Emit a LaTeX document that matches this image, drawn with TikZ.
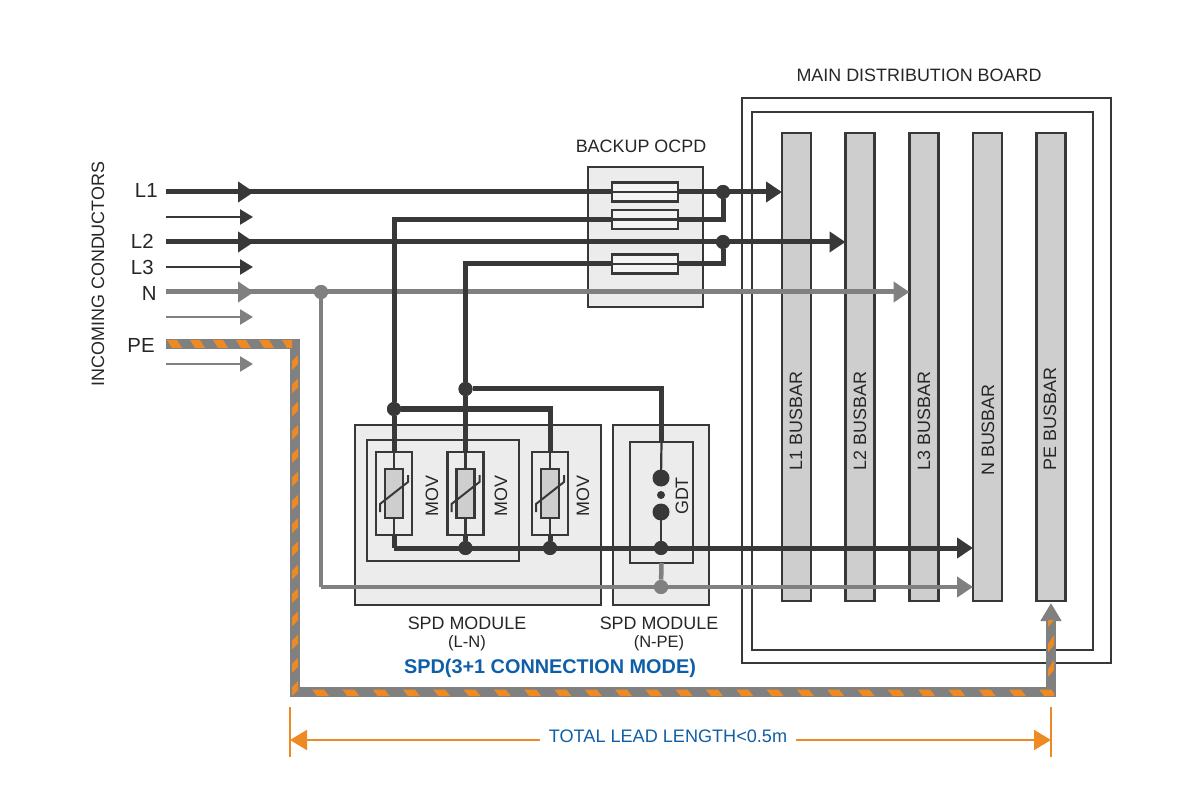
\documentclass[tikz,border=0pt]{standalone}
\usepackage{fontspec}
\setmainfont{Liberation Sans}
\usetikzlibrary{arrows.meta}
\def\px{.02cm}
\definecolor{wiredark}{HTML}{383838}
\definecolor{wiregray}{HTML}{808080}
\definecolor{boxgray}{HTML}{ECECEC}
\definecolor{bargray}{HTML}{CECECE}
\definecolor{leadorange}{HTML}{EE8A24}
\definecolor{leadblue}{HTML}{0F5FA8}
\tikzset{
	txt/.style={inner sep=0pt,font=\fontsize{10.2pt}{12pt}\selectfont,text=black!85},
	linelabel/.style={inner sep=0pt,font=\fontsize{11.6pt}{13pt}\selectfont,text=black!85},
	plainbox/.style={draw=wiredark,line width=2.1*\px,outer sep=0pt,inner sep=0pt},
	modulebox/.style={plainbox,fill=boxgray},
	busbar/.style={plainbox,fill=bargray,minimum width=29*\px,minimum height=468*\px},
	fusebox/.style={plainbox,fill=boxgray!60,minimum width=66*\px,minimum height=19*\px},
	movbox/.style={plainbox,minimum width=36*\px,minimum height=83*\px},
	varistor/.style={plainbox,fill=bargray,minimum width=18*\px,minimum height=49*\px},
	wirethick/.style={draw=wiredark,line width=5*\px},
	wirefine/.style={draw=wiredark,line width=2.2*\px},
	grayline/.style={draw=wiregray,line width=4.5*\px},
	bigtip/.style={-{Triangle[length=16*\px,width=20*\px]}},
	smalltip/.style={-{Triangle[length=13*\px,width=15*\px]}},
	joint/.style={circle,fill=wiredark,inner sep=0pt,minimum size=14*\px},
	grayjoint/.style={joint,fill=wiregray},
}
\begin{document}
\begin{tikzpicture}[x=\px,y=-\px]
\useasboundingbox[fill=white] (0,0) rectangle (1200,800);
% board and busbars
\node[plainbox,minimum width=369*\px,minimum height=565*\px] (board) at (926.5,380.5) {};
\node[plainbox,minimum width=341*\px,minimum height=538*\px] (boardin) at (922.5,381) {};
\foreach \nm/\cx in {La/796.5,Lb/860,Lc/924,Nn/987.5,Pe/1051}
{
	\node[busbar] (\nm bar) at (\cx,367) {};
}
\node[txt,rotate=90] (Latxt) at (796,421) {L1 BUSBAR};
\node[txt,rotate=90] (Lbtxt) at (860,421) {L2 BUSBAR};
\node[txt,rotate=90] (Lctxt) at (924,421) {L3 BUSBAR};
\node[txt,rotate=90] (Nntxt) at (988,430) {N BUSBAR};
\node[txt,rotate=90] (Petxt) at (1050,419) {PE BUSBAR};
\node[txt] (boardtxt) at (919,75) {MAIN DISTRIBUTION BOARD};
% modules
\node[modulebox,minimum width=115*\px,minimum height=140*\px] (ocpd) at (645.5,237) {};
\node[txt] (ocpdtxt) at (641,146) {BACKUP OCPD};
\node[modulebox,minimum width=246*\px,minimum height=180*\px] (spdln) at (478,515) {};
\node[modulebox,minimum width=96*\px,minimum height=180*\px] (spdnpe) at (661,515) {};
\node[plainbox,minimum width=152*\px,minimum height=121*\px] (spdin) at (443,500.5) {};
\node[plainbox,minimum width=63*\px,minimum height=121*\px] (gdtbox) at (661.5,502.5) {};
\foreach \nm/\cx/\tx in {a/394/432,b/465.5/501,c/550/583}
{
	\node[movbox] (mov\nm) at (\cx,493.5) {};
	\node[varistor] (var\nm) at (\cx,493.5) {};
	\draw[wiredark,line width=2*\px] ({\cx-14},512) -- ({\cx-14},504) -- ({\cx+14},482) -- ({\cx+14},475);
	\draw[wirefine] (mov\nm.north) -- (var\nm.north);
	\draw[wirefine] (var\nm.south) -- (mov\nm.south);
	\node[txt,rotate=90] (movtxt\nm) at (\tx,496) {MOV};
}
\node[txt] (lntxta) at (467,623) {SPD MODULE};
\node[txt,font=\fontsize{9.4pt}{11pt}\selectfont] (lntxtb) at (467,643) {(L-N)};
\node[txt] (npetxta) at (659,623) {SPD MODULE};
\node[txt,font=\fontsize{9.4pt}{11pt}\selectfont] (npetxtb) at (659,643) {(N-PE)};
\node[txt,text=leadblue,font=\bfseries\fontsize{11.3pt}{13pt}\selectfont] (modetxt) at (550,668.5) {SPD(3+1 CONNECTION MODE)};
% incoming conductors
\node[txt,rotate=90] (inctxt) at (98,274) {INCOMING CONDUCTORS};
\node[linelabel,anchor=east] (Latx) at (158,190) {L1};
\node[linelabel,anchor=east] (Lbtx) at (154,241) {L2};
\node[linelabel,anchor=east] (Lctx) at (154,267) {L3};
\node[linelabel,anchor=east] (Nntx) at (157,293) {N};
\node[linelabel,anchor=east] (Petx) at (155,345) {PE};
\coordinate (inLa) at (166,192);
\coordinate (inLb) at (166,242);
\coordinate (inNn) at (166,292);
\foreach \nm/\yy/\col in {a/217/wiredark,b/267/wiredark,c/317/wiregray,d/364/wiregray}
{
	\coordinate (thin\nm) at (166,\yy);
	\coordinate (thinend\nm) at (253,\yy);
	\draw[\col,line width=2.5*\px,smalltip] (thin\nm) -- (thinend\nm);
}
\coordinate (midLa) at (254,192);
\coordinate (midLb) at (254,242);
\coordinate (midNn) at (254,292);
% junctions
\node[joint] (ja) at (723,192) {};
\node[joint] (jb) at (723,242) {};
\node[joint] (jc) at (394,409) {};
\node[joint] (jd) at (465.5,389) {};
\node[joint] (je) at (465.5,548) {};
\node[joint] (jf) at (550,548) {};
\node[joint] (jg) at (661,548) {};
\node[grayjoint] (jn) at (321,292) {};
\node[grayjoint] (jp) at (661,587) {};
\coordinate (mida) at (723,219.5);
\coordinate (midb) at (723,264);
\coordinate (busdark) at (394,548);
\coordinate (busgray) at (321,587);
% gray wires
\draw[grayline,line width=5*\px,bigtip] (inNn) -- (midNn);
\draw[grayline,line width=5*\px,bigtip] (inNn) -- (Lcbar.west |- midNn);
\draw[grayline] (jn) -- (busgray);
\draw[grayline,bigtip] (busgray) -- (Nnbar.west |- busgray);
\draw[grayline] (gdtbox.south) -- (jp);
\node[grayjoint] at (jn) {};
\node[grayjoint] at (jp) {};
% dark wires
\draw[wirethick,bigtip] (inLa) -- (midLa);
\draw[wirethick,bigtip] (inLa) -- (Labar.west |- midLa);
\draw[wirethick,bigtip] (inLb) -- (midLb);
\draw[wirethick,bigtip] (inLb) -- (Lbbar.west |- midLb);
\draw[wirethick] (ja) -- (mida) -- (mida -| jc) -- (jc) -- (mova.north);
\draw[wirethick] (jb) -- (midb) -- (midb -| jd) -- (jd) -- (movb.north);
\draw[wirethick] (jc) -| (movc.north);
\draw[wirethick] (jd) -| (gdtbox.north);
\draw[wirethick] (mova.south) -- (busdark);
\draw[wirethick,bigtip] (busdark) -- (Nnbar.west |- busdark);
\draw[wirethick] (movb.south) -- (je);
\draw[wirethick] (movc.south) -- (jf);
% fuses
\node[fusebox] (fusea) at (645,192) {};
\node[fusebox] (fuseb) at (645,219.5) {};
\node[fusebox] (fusec) at (645,264) {};
\draw[wirefine] (fusea.west) -- (fusea.east);
\draw[wirefine] (fuseb.west) -- (fuseb.east);
\draw[wirefine] (fusec.west) -- (fusec.east);
\foreach \nm in {ja,jb,jc,jd,je,jf,jg}
{
	\node[joint] at (\nm) {};
}
% gas tube
\coordinate (gdttop) at (661,478);
\coordinate (gdtbot) at (661,512);
\draw[wirefine] (gdtbox.north) -- (gdttop);
\draw[wirefine] (gdtbot) -- (jg);
\node[joint,minimum size=17*\px] (gdta) at (gdttop) {};
\node[joint,minimum size=8*\px] (gdtb) at (661,495) {};
\node[joint,minimum size=17*\px] (gdtc) at (gdtbot) {};
\node[txt,rotate=90] (gdttxt) at (682,496) {GDT};
% earth lead
\coordinate (peA) at (166,344);
\coordinate (peB) at (295,344);
\coordinate (peC) at (295,692);
\coordinate (peD) at (1051,692);
\draw[wiregray,line width=10*\px,line join=miter,-{Triangle[length=18*\px,width=20*\px]}] (peA) -- (peB) -- (peC) -- (peD) -- (Pebar.south |- 0,603);
\begin{scope}
	\clip (166,339) rectangle (292,349);
	\foreach \s in {167,190,...,283}
	{
		\fill[leadorange] (\s,340) -- ({\s+10},340) -- ({\s+15},348) -- ({\s+5},348) -- cycle;
	}
\end{scope}
\begin{scope}
	\clip (290,348) rectangle (300,697);
	\foreach \s in {355,378.3,...,682}
	{
		\fill[leadorange] (292,{\s+6}) -- (298,\s) -- (298,{\s+9}) -- (292,{\s+15}) -- cycle;
	}
\end{scope}
\begin{scope}
	\clip (300,687) rectangle (1054,698);
	\foreach \s in {312,342.3,...,1040}
	{
		\fill[leadorange] (\s,689.5) -- ({\s+12},689.5) -- ({\s+17},696) -- ({\s+5},696) -- cycle;
	}
\end{scope}
\begin{scope}
	\clip (1046,620) rectangle (1057,687);
	\foreach \s in {610,635,660}
	{
		\fill[leadorange] (1048,{\s+9}) -- (1054,\s) -- (1054,{\s+10}) -- (1048,{\s+17}) -- cycle;
	}
\end{scope}
% lead length
\coordinate (tickA) at (290,707);
\coordinate (tickB) at (290,757);
\coordinate (tickC) at (1051,707);
\coordinate (tickD) at (1051,757);
\node[txt,text=leadblue,font=\fontsize{10.3pt}{12pt}\selectfont,inner sep=9*\px] (leadtxt) at (668,736) {TOTAL LEAD LENGTH<0.5m};
\draw[leadorange,line width=2*\px] (tickA) -- (tickB);
\draw[leadorange,line width=2*\px] (tickC) -- (tickD);
\draw[leadorange,line width=2*\px,-{Triangle[length=17*\px,width=20*\px]}] (leadtxt.west |- 0,740) -- (290,740);
\draw[leadorange,line width=2*\px,-{Triangle[length=17*\px,width=20*\px]}] (leadtxt.east |- 0,740) -- (1051,740);
\end{tikzpicture}
\end{document}
